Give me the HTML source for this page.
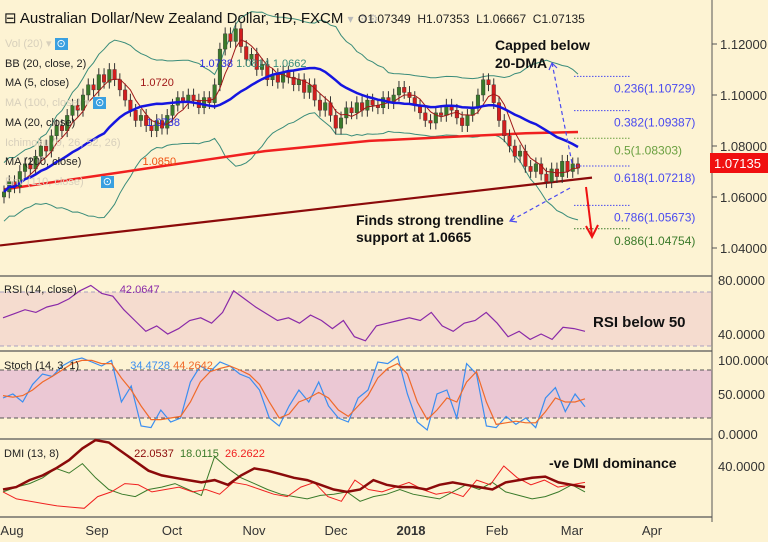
<!DOCTYPE html>
<html><head><meta charset="utf-8"><style>
body{margin:0;background:#fdf3d3;}
svg{display:block;font-family:"Liberation Sans",sans-serif;}
</style></head><body>
<svg id="c" width="768" height="542" xmlns="http://www.w3.org/2000/svg">
<rect width="768" height="542" fill="#fdf3d3"/>
<g id="panes"></g>
<g id="marks"></g>
<g id="labels"></g>
</svg>
<script>
const closes=[1.062,1.066,1.064,1.070,1.073,1.071,1.076,1.080,1.078,1.084,1.088,1.086,1.092,1.096,1.094,1.100,1.104,1.102,
1.108,1.105,1.110,1.106,1.102,1.098,1.094,1.090,1.092,1.088,1.086,1.090,1.087,1.092,
1.096,1.099,1.097,1.100,1.098,1.095,1.099,1.097,1.104,1.118,1.124,1.121,1.126,1.119,1.114,1.116,
1.110,1.112,1.106,1.108,1.105,1.109,1.107,1.104,1.106,1.101,1.104,1.098,1.094,1.097,1.092,
1.087,1.091,1.095,1.093,1.097,1.094,1.098,1.096,1.095,1.099,1.097,1.100,1.103,1.101,
1.099,1.096,1.093,1.090,1.089,1.093,1.092,1.096,1.094,1.091,1.088,1.092,1.095,1.100,1.106,1.104,1.097,
1.090,1.084,1.080,1.076,1.078,1.072,1.070,1.073,1.069,1.066,1.071,1.068,1.074,1.070,1.073,1.07135];
const ma200=[1.063,1.066,1.069,1.072,1.075,1.078,1.080,1.082,1.083,1.084,1.085,1.0855];
const priceTicks=[1.04,1.06,1.08,1.10,1.12];
const fibLevels=[0.236,0.382,0.5,0.618,0.786,0.886];
const fibValues=[1.10729,1.09387,1.08303,1.07218,1.05673,1.04754];
const rsi=[52,55,58,56,60,62,66,72,76,70,68,58,50,42,46,40,44,50,52,48,56,72,66,60,55,50,52,48,54,50,44,50,38,35,46,48,50,52,50,56,46,42,48,50,56,48,38,42,36,40,36,45,44,42];
const stochK=[45,50,40,62,75,72,85,92,95,90,85,92,40,60,10,8,30,15,20,65,85,78,90,85,75,70,55,20,10,35,55,40,65,35,20,15,45,55,90,88,97,50,15,5,50,55,20,88,75,10,8,22,12,20,8,45,58,28,50,34];
const stochD=[48,46,48,55,65,72,80,88,92,92,88,88,70,55,35,18,18,20,22,40,65,78,82,85,80,74,62,40,20,25,40,45,52,45,30,22,35,48,70,82,88,75,40,18,30,45,40,65,78,40,12,14,16,14,14,28,45,40,40,44];
const adx=[20,22,28,32,38,45,55,62,60,52,44,36,32,30,28,26,28,24,32,38,36,33,30,28,24,20,18,20,28,24,22,22,20,24,26,24,22,20,26,28,30,31,26,24,22];
const plusDI=[18,22,25,30,38,34,42,30,20,16,14,20,22,25,20,15,48,38,30,25,20,16,14,12,15,16,18,10,14,16,20,16,14,12,18,24,20,26,18,15,12,14,18,24,18];
const minusDI=[18,12,10,8,6,5,4,14,18,25,24,18,20,22,18,20,16,26,24,20,16,14,22,26,14,10,28,20,18,22,26,20,16,18,14,28,24,40,30,24,28,22,24,26];
const months=["Aug","Sep","Oct","Nov","Dec","2018","Feb","Mar","Apr"];
const monthX=[12,97,172,254,336,411,497,572,652];

const NS="http://www.w3.org/2000/svg";
function mk(p,t,a){const e=document.createElementNS(NS,t);for(const k in a)e.setAttribute(k,a[k]);document.getElementById(p).appendChild(e);return e;}
const X0=4,XW=574;
const xi=i=>X0+i*XW/(closes.length-1);
const xs=(i,n)=>3+i*582/(n-1);
const yP=v=>146-(v-1.08)*2550;
const yR=v=>334-(v-40)*1.35;
const yS=v=>434-v*0.8;
const yD=v=>513-v*47/40;
function pts(arr,fx,fy){return arr.map((v,i)=>fx(i,arr.length).toFixed(1)+","+fy(v).toFixed(1)).join(" ");}

let e;
e=mk("panes","rect",{x:0,y:292,width:712,height:54,fill:"#f5dccf"});

e=mk("panes","rect",{x:0,y:370,width:712,height:48,fill:"#ebc8d4"});

[[292],[346]].forEach(a=>mk("panes","line",{x1:0,x2:712,y1:a[0],y2:a[0],stroke:"#a9a0c0","stroke-dasharray":"4,3"}));
[[370],[418]].forEach(a=>mk("panes","line",{x1:0,x2:712,y1:a[0],y2:a[0],stroke:"#555","stroke-dasharray":"4,3"}));
[276,351,439,517].forEach(y=>mk("panes","line",{x1:0,x2:712,y1:y,y2:y,stroke:"#555","stroke-width":1.2}));
e=mk("panes","line",{x1:712,x2:712,y1:0,y2:522,stroke:"#555"});


priceTicks.forEach(v=>{mk("labels","line",{x1:712,x2:717,y1:yP(v),y2:yP(v),stroke:"#555"});
 const t=mk("labels","text",{x:720,y:yP(v)+5,"font-size":13,fill:"#333"});t.textContent=v.toFixed(5);
 });
[[80,yR(80)],[40,yR(40)]].forEach(a=>{const t=mk("labels","text",{x:718,y:a[1]+5,"font-size":13,fill:"#333"});t.textContent=a[0].toFixed(4);
 });
[[100,yS(100)+6],[50,yS(50)],[0,yS(0)]].forEach(a=>{const t=mk("labels","text",{x:718,y:a[1]+5,"font-size":13,fill:"#333"});t.textContent=a[0].toFixed(4);
 });
[[40,yD(40)]].forEach(a=>{const t=mk("labels","text",{x:718,y:a[1]+5,"font-size":13,fill:"#333"});t.textContent=a[0].toFixed(4);
 });
months.forEach((m,i)=>{const t=mk("labels","text",{x:monthX[i],y:535,"font-size":13,fill:"#333","text-anchor":"middle","font-weight":m=="2018"?"bold":"normal"});t.textContent=m;
 });

function sma(n,i){let s=0,c=0;for(let k=Math.max(0,i-n+1);k<=i;k++){s+=closes[k];c++;}return s/c;}
function sd(n,i){const m=sma(n,i);let s=0,c=0;for(let k=Math.max(0,i-n+1);k<=i;k++){s+=(closes[k]-m)**2;c++;}return Math.sqrt(s/c);}
const bbU=closes.map((v,i)=>sma(20,i)+2.3*Math.max(sd(20,i),0.005));
const bbL=closes.map((v,i)=>sma(20,i)-2.3*Math.max(sd(20,i),0.005));
const m20=closes.map((v,i)=>sma(20,i));
const m5=closes.map((v,i)=>sma(5,i));
e=mk("marks","polyline",{points:pts(bbU,i=>xi(i),yP),fill:"none",stroke:"#3a8c7a","stroke-width":1});

e=mk("marks","polyline",{points:pts(bbL,i=>xi(i),yP),fill:"none",stroke:"#3a8c7a","stroke-width":1});

e=mk("marks","polyline",{points:pts(ma200,(i,n)=>X0+i*XW/(n-1),yP),fill:"none",stroke:"#f02020","stroke-width":2.5});

e=mk("marks","line",{x1:0,y1:yP(1.0410),x2:592,y2:yP(1.0676),stroke:"#8b0a0a","stroke-width":2.2});

closes.forEach((c,i)=>{const o=i?closes[i-1]:c-0.002;const x=xi(i);const up=c>=o;
 const hi=Math.max(o,c)+0.0025,lo=Math.min(o,c)-0.0025;
 let w=mk("marks","line",{x1:x,x2:x,y1:yP(hi),y2:yP(lo),stroke:"#333","stroke-width":1});
 
 const t=yP(Math.max(o,c)),b=yP(Math.min(o,c));
 let r=mk("marks","rect",{x:x-1.8,y:t,width:3.6,height:Math.max(1,b-t),fill:up?"#3a7a2a":"#d21e1e",stroke:"#333","stroke-width":0.4});
 });
e=mk("marks","polyline",{points:pts(m5,i=>xi(i),yP),fill:"none",stroke:"#a01818","stroke-width":1});

e=mk("marks","polyline",{points:pts(m20,i=>xi(i),yP),fill:"none",stroke:"#1515e0","stroke-width":2.5});


const fibCol=["#4a4af0","#4a4af0","#6aa040","#4a4af0","#4a4af0","#3a7a2a"];
fibLevels.forEach((l,i)=>{const y=yP(fibValues[i]);
 let d=mk("marks","line",{x1:574,x2:630,y1:y,y2:y,stroke:fibCol[i],"stroke-dasharray":"1.5,1.5"});
 
 const t=mk("labels","text",{x:614,y:y+16,"font-size":12,fill:fibCol[i]});t.textContent=l+"("+fibValues[i].toFixed(5)+")";
 });

mk("marks","polyline",{points:"572,163 552,63",fill:"none",stroke:"#4a4af0","stroke-dasharray":"4,3","stroke-width":1.2});
mk("marks","polyline",{points:"549,70 552,63 557,68",fill:"none",stroke:"#4a4af0","stroke-width":1.2});
mk("marks","polyline",{points:"570,188 510,221",fill:"none",stroke:"#4a4af0","stroke-dasharray":"4,3","stroke-width":1.2});
mk("marks","polyline",{points:"517,222 510,221 514,215",fill:"none",stroke:"#4a4af0","stroke-width":1.2});
e=mk("marks","polyline",{points:"586,187 592,236",fill:"none",stroke:"#ee1111","stroke-width":2});

mk("marks","polyline",{points:"586,226 592,237 598,225",fill:"none",stroke:"#ee1111","stroke-width":2});

e=mk("labels","rect",{x:710,y:153,width:58,height:20,fill:"#f01010"});

e=mk("labels","text",{x:714,y:168,"font-size":13,fill:"#fff"});e.textContent="1.07135";

e=mk("marks","polyline",{points:pts(rsi,xs,yR),fill:"none",stroke:"#8a2aa8","stroke-width":1.2});

e=mk("marks","polyline",{points:pts(stochK,xs,yS),fill:"none",stroke:"#3a8ef0","stroke-width":1.2});

e=mk("marks","polyline",{points:pts(stochD,xs,yS),fill:"none",stroke:"#f06a2a","stroke-width":1.2});

e=mk("marks","polyline",{points:pts(plusDI,xs,yD),fill:"none",stroke:"#3a7a2a","stroke-width":1});

e=mk("marks","polyline",{points:pts(minusDI,xs,yD),fill:"none",stroke:"#f02020","stroke-width":1});

e=mk("marks","polyline",{points:pts(adx,xs,yD),fill:"none",stroke:"#8b0a0a","stroke-width":2.5});

</script>
<div style="position:absolute;left:0;top:0;width:712px;height:542px;pointer-events:none;font-family:'Liberation Sans',sans-serif;">
<div style="position:absolute;left:4px;top:9px;font-size:15px;color:#111;">⊟ Australian Dollar/New Zealand Dollar, 1D, FXCM <span style="color:#bbb;font-size:12px">▾ ⚙⚙</span></div>
<div style="position:absolute;left:358px;top:12px;font-size:12px;color:#222;">O1.07349 &nbsp;H1.07353 &nbsp;L1.06667 &nbsp;C1.07135</div>
<div style="position:absolute;left:5px;top:35px;font-size:11px;line-height:19.7px;color:#222;">
<div style="color:#d8d0bc">Vol (20) ▾ <span style="background:#3aa0e0;color:#fff;padding:0 2px">⊙</span></div>
<div>BB (20, close, 2) <span style="margin-left:110px;color:#2a2ae0">1.0738</span> <span style="color:#3a8c7a">1.0814</span> <span style="color:#3a8c7a">1.0662</span></div>
<div>MA (5, close) <span style="margin-left:68px;color:#a01818">1.0720</span></div>
<div style="color:#d8d0bc">MA (100, close) ▾ <span style="background:#3aa0e0;color:#fff;padding:0 2px">⊙</span></div>
<div>MA (20, close) <span style="margin-left:68px;color:#2a2ae0">1.0738</span></div>
<div style="color:#d8d0bc">Ichimoku (9, 26, 52, 26)</div>
<div>MA (200, close) <span style="margin-left:58px;color:#f05010">1.0850</span></div>
<div style="color:#d8d0bc">Env (110, close) <span style="background:#3aa0e0;color:#fff;padding:0 2px;margin-left:14px">⊙</span></div>
</div>
<div style="position:absolute;left:495px;top:36px;font-size:14px;font-weight:bold;line-height:18px;color:#111;">Capped below<br>20-DMA</div>
<div style="position:absolute;left:356px;top:212px;font-size:14px;font-weight:bold;line-height:17px;color:#111;">Finds strong trendline<br>support at 1.0665</div>
<div style="position:absolute;left:4px;top:284px;font-size:11px;color:#222;">RSI (14, close) <span style="margin-left:40px;color:#8a2aa8">42.0647</span></div>
<div style="position:absolute;left:593px;top:314px;font-size:15px;font-weight:bold;color:#111;">RSI below 50</div>
<div style="position:absolute;left:4px;top:360px;font-size:11px;color:#222;">Stoch (14, 3, 1) <span style="margin-left:48px;color:#3a8ef0">34.4728</span> <span style="color:#f06a2a">44.2642</span></div>
<div style="position:absolute;left:4px;top:448px;font-size:11px;color:#222;">DMI (13, 8) <span style="margin-left:72px;color:#8b0a0a">22.0537</span> &nbsp;<span style="color:#3a7a2a">18.0115</span> &nbsp;<span style="color:#f02020">26.2622</span></div>
<div style="position:absolute;left:549px;top:455px;font-size:14px;font-weight:bold;color:#111;">-ve DMI dominance</div>
</div>
</body></html>
